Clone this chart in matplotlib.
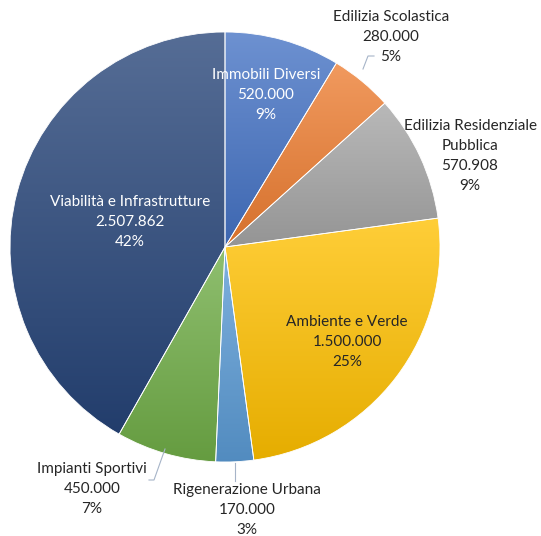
import numpy as np
import matplotlib
matplotlib.use("Agg")
import matplotlib.pyplot as plt
from matplotlib.colors import to_rgb

plt.rcParams['font.family'] = ['Lato', 'DejaVu Sans']

# data
categories = ['Immobili Diversi', 'Edilizia Scolastica', 'Edilizia Residenziale\nPubblica',
              'Ambiente e Verde', 'Rigenerazione Urbana', 'Impianti Sportivi',
              'Viabilità e Infrastrutture']
values = [520000, 280000, 570908, 1500000, 170000, 450000, 2507862]
pct_labels = ['9%', '5%', '9%', '25%', '3%', '7%', '42%']

colors = ['#4472C4', '#ED7D31', '#A5A5A5', '#FFC000', '#5B9BD5', '#70AD47', '#264478']
text_colors = ['white', '#262626', '#262626', '#262626', '#262626', '#262626', 'white']
# label centres in pixel coords (x, y from top)
label_pos = [(266, 95), (391, 37), (470, 156), (347, 342), (247, 510), (92, 489), (130, 222)]

W, H = 541, 536
cx, cy, r = 225, 247, 215

fig = plt.figure(figsize=(W / 100, H / 100), dpi=100)
ax = fig.add_axes([0, 0, 1, 1])

wedges, _ = ax.pie(values, center=(cx, H - cy), radius=r, startangle=90,
                   counterclock=False,
                   wedgeprops=dict(edgecolor='white', linewidth=0.6, facecolor='none'))
ax.set_aspect('equal')
ax.axis('off')

# vertical gradient inside each slice, lighter on top
t = np.linspace(0, 1, 256)[:, None]
for w, c in zip(wedges, colors):
    base = np.array(to_rgb(c))
    top = base + (1 - base) * 0.22
    bottom = base * 0.9
    grad = top[None, None, :] * (1 - t[..., None]) + bottom[None, None, :] * t[..., None]
    grad = np.repeat(grad, 2, axis=1)
    bb = w.get_path().get_extents()
    im = ax.imshow(grad, extent=(bb.x0, bb.x1, bb.y0, bb.y1),
                   origin='upper', aspect='auto', zorder=1)
    im.set_clip_path(w)
    w.set_zorder(2)
ax.set_xlim(0, W)
ax.set_ylim(0, H)

for name, v, p, (px, py), tc in zip(categories, values, pct_labels, label_pos, text_colors):
    txt = f"{name}\n{v:,}".replace(",", ".") + f"\n{p}"
    ax.text(px, H - py, txt, ha='center', va='center', fontsize=11,
            color=tc, linespacing=1.55, zorder=3)

# leader lines
lc = '#A6B4C8'
ax.plot([363, 368, 374], [H - 69, H - 56, H - 56], color=lc, lw=0.8, zorder=3)
ax.plot([165, 154, 149], [H - 449, H - 480, H - 480], color=lc, lw=0.8, zorder=3)
ax.plot([235, 235], [H - 463, H - 481], color=lc, lw=0.8, zorder=3)

fig.savefig('out.png', dpi=100)
